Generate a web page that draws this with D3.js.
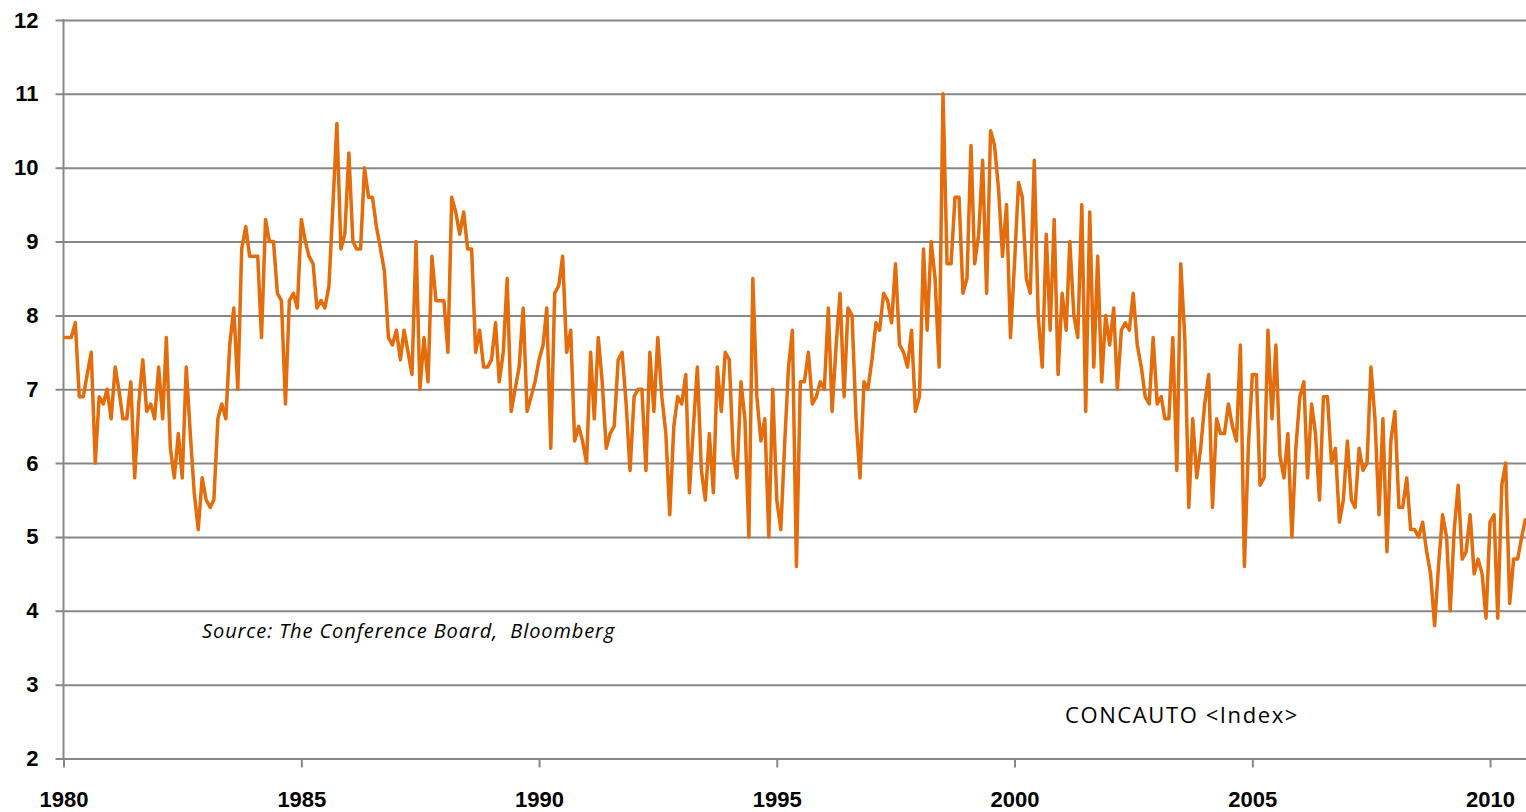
<!DOCTYPE html>
<html>
<head>
<meta charset="utf-8">
<script src="https://cdn.jsdelivr.net/npm/d3@7"></script>
<style>
  body { margin: 0; background: #fff; }
  svg { display: block; }
</style>
</head>
<body>
<div class="chart"></div>
<script>
// monthly CONCAUTO readings, Jan 1980 onwards
const values1980s = [
  7.7,7.7,7.7,7.9,6.9,6.9,7.2,7.5,6.0,6.9,6.8,7.0,
  6.6,7.3,7.0,6.6,6.6,7.1,5.8,6.8,7.4,6.7,6.8,6.6,
  7.3,6.6,7.7,6.2,5.8,6.4,5.8,7.3,6.4,5.6,5.1,5.8,
  5.5,5.4,5.5,6.6,6.8,6.6,7.6,8.1,7.0,8.9,9.2,8.8,
  8.8,8.8,7.7,9.3,9.0,9.0,8.3,8.2,6.8,8.2,8.3,8.1,
  9.3,9.0,8.8,8.7,8.1,8.2,8.1,8.4,9.5,10.6,8.9,9.1,
  10.2,9.0,8.9,8.9,10.0,9.6,9.6,9.2,8.9,8.6,7.7,7.6,
  7.8,7.4,7.8,7.5,7.2,9.0,7.0,7.7,7.1,8.8,8.2,8.2,
  8.2,7.5,9.6,9.4,9.1,9.4,8.9,8.9,7.5,7.8,7.3,7.3,
  7.4,7.9,7.1,7.5,8.5,6.7,7.0,7.3,8.1,6.7,6.9,7.1
];
const values1990s = [
  7.4,7.6,8.1,6.2,8.3,8.4,8.8,7.5,7.8,6.3,6.5,6.3,
  6.0,7.5,6.6,7.7,7.1,6.2,6.4,6.5,7.4,7.5,6.8,5.9,
  6.9,7.0,7.0,5.9,7.5,6.7,7.7,6.9,6.4,5.3,6.5,6.9,
  6.8,7.2,5.6,6.5,7.3,5.9,5.5,6.4,5.6,7.3,6.7,7.5,
  7.4,6.1,5.8,7.1,6.6,5.0,8.5,6.9,6.3,6.6,5.0,7.0,
  5.5,5.1,6.2,7.3,7.8,4.6,7.1,7.1,7.5,6.8,6.9,7.1,
  7.0,8.1,6.7,7.6,8.3,6.9,8.1,8.0,6.6,5.8,7.1,7.0,
  7.4,7.9,7.8,8.3,8.2,7.9,8.7,7.6,7.5,7.3,7.8,6.7,
  6.9,8.9,7.8,9.0,8.5,7.3,11.0,8.7,8.7,9.6,9.6,8.3,
  8.5,10.3,8.7,9.1,10.1,8.3,10.5,10.3,9.7,8.8,9.5,7.7
];
const values2000s = [
  8.7,9.8,9.6,8.5,8.3,10.1,8.0,7.3,9.1,7.8,9.3,7.2,
  8.3,7.8,9.0,8.0,7.7,9.5,6.7,9.4,7.3,8.8,7.1,8.0,
  7.6,8.1,7.0,7.8,7.9,7.8,8.3,7.6,7.3,6.9,6.8,7.7,
  6.8,6.9,6.6,6.6,7.7,5.9,8.7,7.7,5.4,6.6,5.8,6.2,
  6.8,7.2,5.4,6.6,6.4,6.4,6.8,6.5,6.3,7.6,4.6,6.2,
  7.2,7.2,5.7,5.8,7.8,6.6,7.6,6.1,5.8,6.4,5.0,6.2,
  6.9,7.1,5.8,6.8,6.4,5.5,6.9,6.9,6.0,6.2,5.2,5.5,
  6.3,5.5,5.4,6.2,5.9,6.0,7.3,6.6,5.3,6.6,4.8,6.3,
  6.7,5.4,5.4,5.8,5.1,5.1,5.0,5.2,4.8,4.5,3.8,4.6,
  5.3,5.0,4.0,5.1,5.7,4.7,4.8,5.3,4.5,4.7,4.5,3.9
];
const values2010 = [5.2,5.3,3.9,5.7,6.0,4.1,4.7,4.7,5.0,5.25];

const yTicks = [2,3,4,5,6,7,8,9,10,11,12];
const xTickYears = [1980,1985,1990,1995,2000,2005,2010];
const sourceText = "Source: The Conference Board,  Bloomberg";
const seriesLabel = "CONCAUTO <Index>";

const allValues = values1980s.concat(values1990s, values2000s, values2010);
const data = allValues.map((v, i) => ({ date: new Date(1980, i, 1), value: v }));

const W = 1526, H = 812;
const margin = {left: 63.5, right: 1526, top: 20, bottom: 758.5};

const svg = d3.select(".chart").append("svg")
  .attr("width", W)
  .attr("height", H);

const x = d3.scaleTime()
  .domain([new Date(1980, 0, 1), new Date(2010, 9, 1)])
  .range([margin.left, 1525.6]);

const y = d3.scaleLinear()
  .domain([2, 12])
  .range([margin.bottom, margin.top]);

const gridColor = "#878787";

// horizontal gridlines + y labels
const yAxis = svg.append("g")
  .attr("transform", "translate(" + margin.left + ",0)")
  .call(d3.axisLeft(y).tickValues(yTicks).tickSize(-(margin.right - margin.left)).tickPadding(25));
yAxis.select(".domain").remove();
yAxis.selectAll(".tick line")
  .attr("x1", -8)
  .attr("stroke", gridColor)
  .attr("stroke-width", 2);
yAxis.selectAll(".tick text")
  .attr("font-family", "'Liberation Sans', Arial, sans-serif")
  .attr("font-weight", "bold")
  .attr("font-size", 22)
  .attr("fill", "#000");

// vertical axis line
svg.append("line")
  .attr("x1", margin.left).attr("x2", margin.left)
  .attr("y1", margin.top - 1).attr("y2", margin.bottom)
  .attr("stroke", gridColor)
  .attr("stroke-width", 2);

// x axis
const xAxis = svg.append("g")
  .attr("transform", "translate(0," + margin.bottom + ")")
  .call(d3.axisBottom(x)
    .tickValues(xTickYears.map(yr => new Date(yr, 0, 1)))
    .tickFormat(d3.timeFormat("%Y"))
    .tickSize(9)
    .tickPadding(24));
xAxis.select(".domain").remove();
xAxis.selectAll(".tick line")
  .attr("stroke", gridColor)
  .attr("stroke-width", 2);
xAxis.selectAll(".tick text")
  .attr("font-family", "'Liberation Sans', Arial, sans-serif")
  .attr("font-weight", "bold")
  .attr("font-size", 22)
  .attr("fill", "#000");

// series line
svg.append("path")
  .datum(data)
  .attr("fill", "none")
  .attr("stroke", "#e46c0a")
  .attr("stroke-width", 3.5)
  .attr("stroke-linejoin", "round")
  .attr("d", d3.line()
    .x(d => x(d.date))
    .y(d => y(d.value)));

// annotations
svg.append("text")
  .attr("x", 202)
  .attr("y", 638)
  .attr("font-family", "'Open Sans', sans-serif")
  .attr("font-style", "italic")
  .attr("font-size", 20)
  .attr("letter-spacing", 0.9)
  .style("white-space", "pre")
  .attr("fill", "#000")
  .text(sourceText);

svg.append("text")
  .attr("x", 1065)
  .attr("y", 723)
  .attr("font-family", "'Open Sans', sans-serif")
  .attr("font-size", 22)
  .attr("letter-spacing", 1.6)
  .attr("fill", "#000")
  .text(seriesLabel);
</script>
</body>
</html>
